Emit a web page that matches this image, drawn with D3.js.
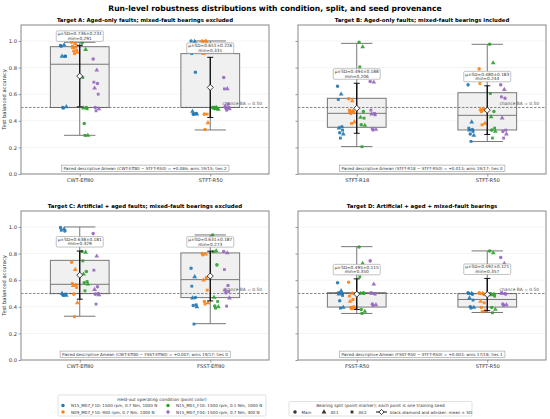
<!DOCTYPE html>
<html lang="en">
  <head>
    <meta charset="utf-8">
    <title>Run-level robustness</title>
    <script src="https://cdn.jsdelivr.net/npm/d3@7"></script>
    <style>
      body { margin: 0; background: #fff; }
      text { font-family: "DejaVu Sans", sans-serif; }
    </style>
  </head>
  <body>
    <svg id="chart" width="550" height="419"></svg>

    <script type='text/javascript'>
      // ---- data ----
      let panelTitles = [
        'Target A: Aged-only faults; mixed-fault bearings excluded',
        'Target B: Aged-only faults; mixed-fault bearings included',
        'Target C: Artificial + aged faults; mixed-fault bearings excluded',
        'Target D: Artificial + aged + mixed-fault bearings'
      ];
      let categories = [
        ['CWT-Eff80', 'STFT-R50'],
        ['STFT-R18', 'STFT-R50'],
        ['CWT-Eff80', 'FSST-Eff80'],
        ['FSST-R50', 'STFT-R50']
      ];
      let conditions = [
        'N15_M07_F10: 1500 rpm, 0.7 Nm, 1000 N',
        'N09_M07_F10: 900 rpm, 0.7 Nm, 1000 N',
        'N15_M01_F10: 1500 rpm, 0.1 Nm, 1000 N',
        'N15_M07_F04: 1500 rpm, 0.7 Nm, 400 N'
      ];
      let splits = ['Main', 'AE1', 'AE2'];
      let yTicks = [0, 0.2, 0.4, 0.6, 0.8, 1.0];

      // box summaries per panel, per category
      let boxLow    = [[0.291, 0.331], [0.206, 0.244], [0.329, 0.273], [0.350, 0.357]];
      let boxQ1     = [[0.500, 0.500], [0.351, 0.331], [0.499, 0.469], [0.398, 0.398]];
      let boxMedian = [[0.825, 0.500], [0.456, 0.441], [0.569, 0.604], [0.500, 0.455]];
      let boxQ3     = [[0.957, 0.905], [0.569, 0.611], [0.749, 0.805], [0.506, 0.499]];
      let boxHigh   = [[0.990, 1.000], [0.982, 0.975], [1.000, 0.940], [0.852, 0.820]];
      let runMean   = [[0.736, 0.651], [0.494, 0.480], [0.638, 0.631], [0.495, 0.492]];
      let runSD     = [[0.231, 0.226], [0.188, 0.183], [0.181, 0.187], [0.115, 0.121]];

      let pairedNotes = [
        'Paired descriptive \u0394mean (CWT-Eff80 \u2212 STFT-R50) = +0.086; wins 19/15; ties 2',
        'Paired descriptive \u0394mean (STFT-R18 \u2212 STFT-R50) = +0.013; wins 19/17; ties 0',
        'Paired descriptive \u0394mean (CWT-Eff80 \u2212 FSST-Eff80) = +0.007; wins 19/17; ties 0',
        'Paired descriptive \u0394mean (FSST-R50 \u2212 STFT-R50) = +0.003; wins 17/18; ties 1'
      ];

      // per-run balanced accuracy: [condition][9 runs], split = run index % 3
      let runsA0 = [
        [0.965, 0.97, 0.96, 0.885, 0.885, 0.885, 0.50, 0.505, 0.495],
        [0.99, 0.98, 0.96, 0.955, 0.95, 0.93, 0.925, 0.915, 0.905],
        [0.985, 0.935, 0.725, 0.50, 0.495, 0.49, 0.38, 0.29, 0.29],
        [0.865, 0.78, 0.69, 0.68, 0.645, 0.60, 0.50, 0.49, 0.475]
      ];
      let runsA1 = [
        [1.0, 0.995, 0.905, 0.765, 0.47, 0.455, 0.45, 0.45, 0.45],
        [1.0, 1.0, 0.995, 0.99, 0.905, 0.45, 0.45, 0.385, 0.335],
        [0.50, 0.50, 0.50, 0.495, 0.495, 0.49, 0.49, 0.485, 0.50],
        [0.725, 0.64, 0.64, 0.525, 0.51, 0.50, 0.495, 0.49, 0.48]
      ];
      let runsB0 = [
        [0.66, 0.60, 0.56, 0.355, 0.345, 0.33, 0.31, 0.30, 0.27],
        [0.565, 0.55, 0.48, 0.475, 0.47, 0.465, 0.455, 0.39, 0.38],
        [0.99, 0.955, 0.805, 0.47, 0.425, 0.42, 0.37, 0.365, 0.205],
        [0.695, 0.69, 0.48, 0.455, 0.45, 0.445, 0.34, 0.335, 0.33]
      ];
      let runsB1 = [
        [0.67, 0.39, 0.345, 0.335, 0.33, 0.32, 0.30, 0.29, 0.245],
        [0.79, 0.745, 0.68, 0.49, 0.485, 0.48, 0.47, 0.38, 0.37],
        [0.975, 0.835, 0.605, 0.47, 0.43, 0.345, 0.33, 0.32, 0.27],
        [0.67, 0.635, 0.58, 0.57, 0.42, 0.33, 0.32, 0.30, 0.27]
      ];
      let runsC0 = [
        [0.995, 0.985, 0.975, 0.97, 0.50, 0.495, 0.49, 0.485, 0.485],
        [0.735, 0.68, 0.575, 0.565, 0.56, 0.545, 0.495, 0.43, 0.325],
        [0.815, 0.81, 0.745, 0.665, 0.645, 0.59, 0.58, 0.57, 0.52],
        [0.95, 0.78, 0.675, 0.55, 0.53, 0.50, 0.495, 0.49, 0.42]
      ];
      let runsC1 = [
        [0.69, 0.625, 0.555, 0.47, 0.465, 0.415, 0.41, 0.40, 0.27],
        [0.80, 0.795, 0.79, 0.62, 0.60, 0.525, 0.44, 0.43, 0.42],
        [0.94, 0.82, 0.815, 0.715, 0.47, 0.44, 0.405, 0.40, 0.39],
        [0.815, 0.805, 0.68, 0.56, 0.525, 0.515, 0.505, 0.465, 0.405]
      ];
      let runsD0 = [
        [0.58, 0.52, 0.505, 0.50, 0.495, 0.485, 0.445, 0.395, 0.39],
        [0.585, 0.50, 0.48, 0.455, 0.44, 0.40, 0.395, 0.39, 0.385],
        [0.85, 0.725, 0.625, 0.505, 0.50, 0.50, 0.38, 0.365, 0.35],
        [0.745, 0.57, 0.505, 0.50, 0.50, 0.495, 0.42, 0.415, 0.41]
      ];
      let runsD1 = [
        [0.505, 0.50, 0.50, 0.495, 0.465, 0.45, 0.40, 0.395, 0.39],
        [0.505, 0.50, 0.50, 0.495, 0.44, 0.43, 0.395, 0.37, 0.365],
        [0.82, 0.805, 0.50, 0.495, 0.49, 0.48, 0.395, 0.38, 0.355],
        [0.77, 0.725, 0.505, 0.50, 0.50, 0.495, 0.42, 0.415, 0.41]
      ];
      let runs = [[runsA0, runsA1], [runsB0, runsB1], [runsC0, runsC1], [runsD0, runsD1]];

      // ---- styles / layout ----
      let colors = ['#1f77b4', '#ff7f0e', '#2ca02c', '#9467bd'];
      let colorOffset = [-0.125, -0.04, 0.04, 0.125];
      let markerTypes = [d3.symbolCircle, d3.symbolTriangle, d3.symbolSquare];
      let markerSize = [10, 10, 8];
      let panelPos = [{x: 21, y: 25}, {x: 298, y: 25}, {x: 21, y: 211}, {x: 298, y: 211}];
      let width = 248, height = 149;

      let svg = d3.select('#chart');

      svg.append('text')
        .attr('x', 275).attr('y', 10.5)
        .attr('text-anchor', 'middle')
        .attr('font-size', 7.6).attr('font-weight', 'bold')
        .text('Run-level robustness distributions with condition, split, and seed provenance');

      panelTitles.forEach((title, p) => {
        let g = svg.append('g')
          .attr('transform', 'translate(' + panelPos[p].x + ',' + panelPos[p].y + ')');
        let x = d3.scaleLinear().domain([-0.45, 1.45]).range([0, width]);
        let y = d3.scaleLinear().domain([0, 1.12]).range([height, 0]);

        g.append('text')
          .attr('x', width / 2).attr('y', -3.5)
          .attr('text-anchor', 'middle')
          .attr('font-size', 5.4).attr('font-weight', 'bold')
          .text(title);

        // grid
        g.selectAll('.grid').data(yTicks).enter().append('line')
          .attr('x1', 0).attr('x2', width)
          .attr('y1', d => y(d)).attr('y2', d => y(d))
          .attr('stroke', '#e8e8e8').attr('stroke-width', 0.5);

        // axes
        let yAxis = d3.axisLeft(y).tickValues(yTicks).tickSize(2.5).tickPadding(1.5)
          .tickFormat(p % 2 == 0 ? d3.format('.1f') : '');
        let ya = g.append('g').call(yAxis);
        let xAxis = d3.axisBottom(x).tickValues([0, 1]).tickSize(2.5).tickPadding(2)
          .tickFormat(i => categories[p][i]);
        let xa = g.append('g').attr('transform', 'translate(0,' + height + ')').call(xAxis);
        [ya, xa].forEach(a => {
          a.select('.domain').remove();
          a.selectAll('.tick line').attr('stroke', '#555').attr('stroke-width', 0.6);
          a.selectAll('.tick text').attr('font-size', 5.2).attr('fill', '#333')
            .style('font-family', '"DejaVu Sans", sans-serif');
        });

        if (p % 2 == 0) {
          g.append('text')
            .attr('transform', 'translate(-15,' + height / 2 + ') rotate(-90)')
            .attr('text-anchor', 'middle')
            .attr('font-size', 5.2).attr('fill', '#333')
            .text('Test balanced accuracy');
        }

        // boxes
        categories[p].forEach((c, i) => {
          let bw = 0.225, cw = 0.12;
          g.append('line')
            .attr('x1', x(i)).attr('x2', x(i))
            .attr('y1', y(boxLow[p][i])).attr('y2', y(boxQ1[p][i]))
            .attr('stroke', '#777').attr('stroke-width', 1);
          g.append('line')
            .attr('x1', x(i)).attr('x2', x(i))
            .attr('y1', y(boxQ3[p][i])).attr('y2', y(boxHigh[p][i]))
            .attr('stroke', '#777').attr('stroke-width', 1);
          [boxLow[p][i], boxHigh[p][i]].forEach(v => {
            g.append('line')
              .attr('x1', x(i - cw)).attr('x2', x(i + cw))
              .attr('y1', y(v)).attr('y2', y(v))
              .attr('stroke', '#777').attr('stroke-width', 1);
          });
          g.append('rect')
            .attr('x', x(i - bw)).attr('width', x(i + bw) - x(i - bw))
            .attr('y', y(boxQ3[p][i])).attr('height', y(boxQ1[p][i]) - y(boxQ3[p][i]))
            .attr('fill', '#f0f0f0').attr('stroke', '#777').attr('stroke-width', 1);
          g.append('line')
            .attr('x1', x(i - bw)).attr('x2', x(i + bw))
            .attr('y1', y(boxMedian[p][i])).attr('y2', y(boxMedian[p][i]))
            .attr('stroke', '#777').attr('stroke-width', 1);
        });

        // chance line
        g.append('line')
          .attr('x1', 0).attr('x2', width)
          .attr('y1', y(0.5)).attr('y2', y(0.5))
          .attr('stroke', '#555').attr('stroke-width', 0.7)
          .attr('stroke-dasharray', '2.5,1.5');
        g.append('text')
          .attr('x', width - 7).attr('y', y(0.5) - 2)
          .attr('text-anchor', 'end')
          .attr('font-size', 4.4).attr('fill', '#555')
          .text('chance BA = 0.50');

        // points
        categories[p].forEach((c, i) => {
          runs[p][i].forEach((vals, k) => {
            g.selectAll('.pt' + i + k)
              .data(vals).enter()
              .append('path')
              .attr('d', (d, j) => d3.symbol().type(markerTypes[j % 3]).size(markerSize[j % 3])())
              .attr('transform', (d, j) => {
                let jit = (((j * 5) % 9) - 4) / 4 * 0.022;
                return 'translate(' + x(i + colorOffset[k] + jit) + ',' + y(d) + ')';
              })
              .attr('fill', colors[k])
              .attr('opacity', 0.9);
          });
        });

        // mean +- SD
        categories[p].forEach((c, i) => {
          let m = runMean[p][i], s = runSD[p][i];
          g.append('line')
            .attr('x1', x(i)).attr('x2', x(i))
            .attr('y1', y(m - s)).attr('y2', y(m + s))
            .attr('stroke', '#111').attr('stroke-width', 1.4);
          [m - s, m + s].forEach(v => {
            g.append('line')
              .attr('x1', x(i) - 3).attr('x2', x(i) + 3)
              .attr('y1', y(v)).attr('y2', y(v))
              .attr('stroke', '#111').attr('stroke-width', 1);
          });
          g.append('path')
            .attr('d', 'M0,-3L3,0L0,3L-3,0Z')
            .attr('transform', 'translate(' + x(i) + ',' + y(m) + ')')
            .attr('fill', '#fff').attr('stroke', '#111').attr('stroke-width', 0.8);

          // annotation
          let bottom = y(m + s + 0.03);
          let lab = g.append('g');
          lab.append('rect')
            .attr('x', x(i) - 23.5).attr('y', bottom - 10.5)
            .attr('width', 47).attr('height', 10.5)
            .attr('rx', 1.2)
            .attr('fill', '#fff').attr('stroke', '#999').attr('stroke-width', 0.6);
          lab.append('text')
            .attr('x', x(i)).attr('y', bottom - 6)
            .attr('text-anchor', 'middle')
            .attr('font-size', 4.3).attr('fill', '#333')
            .text('\u03bc\u00b1SD=' + m.toFixed(3) + '\u00b1' + s.toFixed(3));
          lab.append('text')
            .attr('x', x(i)).attr('y', bottom - 1.6)
            .attr('text-anchor', 'middle')
            .attr('font-size', 4.3).attr('fill', '#333')
            .text('min=' + boxLow[p][i].toFixed(3));
        });

        // paired note
        let note = g.append('g');
        let nt = note.append('text')
          .attr('x', width / 2).attr('y', height - 4.3)
          .attr('text-anchor', 'middle')
          .attr('font-size', 4.1).attr('fill', '#333')
          .text(pairedNotes[p]);
        let bb = nt.node().getBBox();
        note.insert('rect', 'text')
          .attr('x', bb.x - 2).attr('y', bb.y - 0.6)
          .attr('width', bb.width + 4).attr('height', bb.height + 1.2)
          .attr('fill', '#fff').attr('stroke', '#999').attr('stroke-width', 0.6);

        // frame
        g.append('rect')
          .attr('width', width).attr('height', height)
          .attr('fill', 'none').attr('stroke', '#888').attr('stroke-width', 1);
      });

      // ---- legend: condition colors ----
      let leg1 = svg.append('g').attr('transform', 'translate(58,395)');
      leg1.append('rect')
        .attr('width', 208).attr('height', 21)
        .attr('rx', 1.2)
        .attr('fill', '#fff').attr('stroke', '#ccc').attr('stroke-width', 0.6);
      leg1.append('text')
        .attr('x', 104).attr('y', 5.5)
        .attr('text-anchor', 'middle')
        .attr('font-size', 4.3).attr('fill', '#333')
        .text('Held-out operating condition (point color)');
      conditions.forEach((c, k) => {
        let cx = k < 2 ? 5 : 110, cy = k % 2 == 0 ? 10.5 : 17;
        leg1.append('circle')
          .attr('cx', cx).attr('cy', cy).attr('r', 1.7)
          .attr('fill', colors[k]);
        leg1.append('text')
          .attr('x', cx + 8).attr('y', cy + 1.5)
          .attr('font-size', 4.1).attr('fill', '#333')
          .text(c);
      });

      // ---- legend: split markers ----
      let leg2 = svg.append('g').attr('transform', 'translate(289,401.5)');
      leg2.append('rect')
        .attr('width', 183).attr('height', 14.5)
        .attr('rx', 1.2)
        .attr('fill', '#fff').attr('stroke', '#ccc').attr('stroke-width', 0.6);
      leg2.append('text')
        .attr('x', 91.5).attr('y', 5)
        .attr('text-anchor', 'middle')
        .attr('font-size', 4.3).attr('fill', '#333')
        .text('Bearing split (point marker); each point is one training seed');
      let splitX = [6, 35, 63];
      splits.forEach((s, j) => {
        leg2.append('path')
          .attr('d', d3.symbol().type(markerTypes[j]).size(markerSize[j])())
          .attr('transform', 'translate(' + splitX[j] + ',10.5)')
          .attr('fill', '#333');
        leg2.append('text')
          .attr('x', splitX[j] + 6.5).attr('y', 12)
          .attr('font-size', 4.1).attr('fill', '#333')
          .text(s);
      });
      leg2.append('line')
        .attr('x1', 87).attr('x2', 98).attr('y1', 10.5).attr('y2', 10.5)
        .attr('stroke', '#111').attr('stroke-width', 1);
      leg2.append('path')
        .attr('d', 'M0,-2.6L2.6,0L0,2.6L-2.6,0Z')
        .attr('transform', 'translate(92.5,10.5)')
        .attr('fill', '#fff').attr('stroke', '#111').attr('stroke-width', 0.8);
      leg2.append('text')
        .attr('x', 101).attr('y', 12)
        .attr('font-size', 4.1).attr('fill', '#333')
        .text('black diamond and whisker: mean \u00b1 SD');
    </script>
  </body>
</html>
